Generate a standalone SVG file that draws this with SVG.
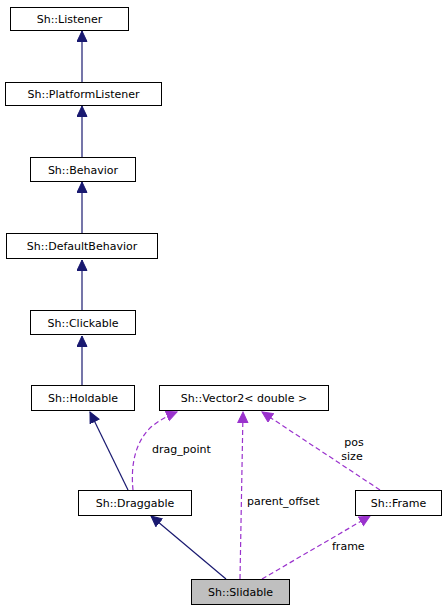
<svg xmlns="http://www.w3.org/2000/svg" width="447" height="611" viewBox="0 0 447 611">
<style>
.n rect{fill:#fff;stroke:#000;stroke-width:1}
.n.h rect{fill:#bfbfbf}
text{font-family:"DejaVu Sans",sans-serif;font-size:11px;fill:#000}
.n text{text-anchor:middle}
.inh{stroke:#191970;fill:none;stroke-width:1.2}
.use{stroke:#9a32cd;fill:none;stroke-width:1.2;stroke-dasharray:5,3}
</style>
<defs>
<marker id="ai" markerWidth="12" markerHeight="12" refX="11" refY="5.5" orient="auto" markerUnits="userSpaceOnUse" viewBox="0 0 12 12"><path d="M0.5,0.5 L11,5.5 L0.5,10.5 Z" fill="#191970" stroke="#191970"/></marker>
<marker id="au" markerWidth="12" markerHeight="12" refX="11" refY="5.5" orient="auto" markerUnits="userSpaceOnUse" viewBox="0 0 12 12"><path d="M0.5,0.5 L11,5.5 L0.5,10.5 Z" fill="#9a32cd" stroke="#9a32cd"/></marker>
</defs>
<rect width="447" height="611" fill="#fff"/>
<g id="edges">
<path class="inh" d="M82,82 L82,31" marker-end="url(#ai)"/>
<path class="inh" d="M82,157 L82,106" marker-end="url(#ai)"/>
<path class="inh" d="M82,233 L82,182" marker-end="url(#ai)"/>
<path class="inh" d="M82,310 L82,260" marker-end="url(#ai)"/>
<path class="inh" d="M82,385 L82,336" marker-end="url(#ai)"/>
<path class="inh" d="M128,490 L90,412" marker-end="url(#ai)"/>
<path class="inh" d="M226,579 L151,516" marker-end="url(#ai)"/>
<path class="use" d="M133,490 C131,470 133,445 150,428 C158,421 167,416 177,412" marker-end="url(#au)"/>
<path class="use" d="M240,579 L243,412" marker-end="url(#au)"/>
<path class="use" d="M380,490 L262,412" marker-end="url(#au)"/>
<path class="use" d="M262,579 L370,516" marker-end="url(#au)"/>
<text x="152" y="453">drag_point</text>
<text x="247" y="505">parent_offset</text>
<text x="354" y="446" text-anchor="middle">pos</text>
<text x="352" y="460" text-anchor="middle">size</text>
<text x="332" y="550">frame</text>
</g>
<g id="listener" class="n"><rect x="10.5" y="7.5" width="118" height="23"/><text x="69.5" y="23">Sh::Listener</text></g>
<g id="platformlistener" class="n"><rect x="5.5" y="82.5" width="156" height="23"/><text x="83.5" y="98">Sh::PlatformListener</text></g>
<g id="behavior" class="n"><rect x="30.5" y="157.5" width="105" height="24"/><text x="83" y="173.5">Sh::Behavior</text></g>
<g id="defaultbehavior" class="n"><rect x="6.5" y="233.5" width="151" height="25"/><text x="82" y="250">Sh::DefaultBehavior</text></g>
<g id="clickable" class="n"><rect x="30.5" y="310.5" width="105" height="24"/><text x="83" y="326.5">Sh::Clickable</text></g>
<g id="holdable" class="n"><rect x="31.5" y="385.5" width="103" height="25"/><text x="83" y="402">Sh::Holdable</text></g>
<g id="vector2" class="n"><rect x="159.5" y="385.5" width="169" height="25"/><text x="244" y="402">Sh::Vector2&lt; double &gt;</text></g>
<g id="draggable" class="n"><rect x="78.5" y="490.5" width="113" height="25"/><text x="135" y="507">Sh::Draggable</text></g>
<g id="frame" class="n"><rect x="355.5" y="490.5" width="86" height="25"/><text x="398.5" y="507">Sh::Frame</text></g>
<g id="slidable" class="n h"><rect x="191.5" y="579.5" width="98" height="25"/><text x="240.5" y="596">Sh::Slidable</text></g>
</svg>
